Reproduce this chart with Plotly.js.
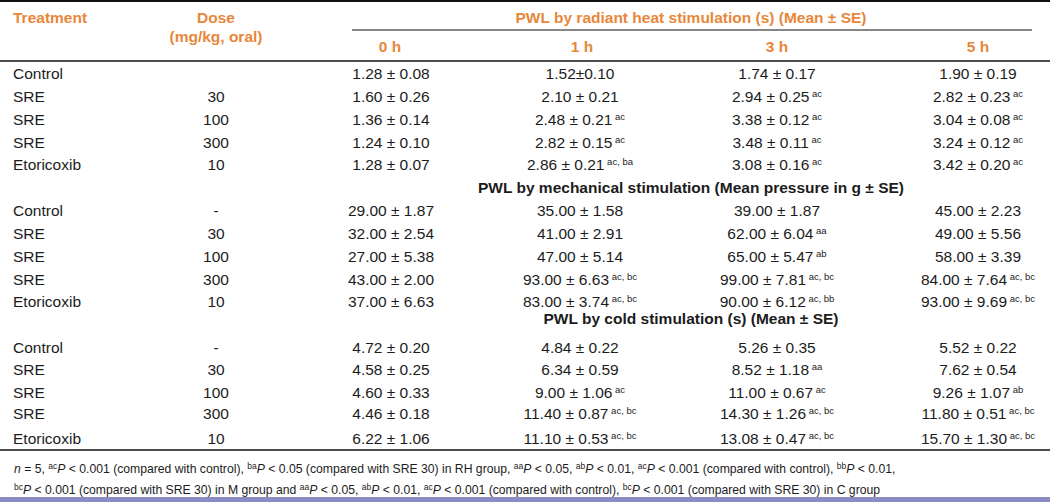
<!DOCTYPE html>
<html>
<head>
<meta charset="utf-8">
<script src="https://cdn.plot.ly/plotly-3.0.1.min.js"></script>
<style>html,body{margin:0;padding:0;background:#fff;}#chart{width:1050px;height:502px;}</style>
</head>
<body>
<div id="chart"></div>
<script>
// ---------------- data ----------------
const treatments = ['Control', 'SRE', 'SRE', 'SRE', 'Etoricoxib'];
const heatDose = ['', '30', '100', '300', '10'];
const mechDose = ['-', '30', '100', '300', '10'];
const coldDose = ['-', '30', '100', '300', '10'];
const timePoints = ['0 h', '1 h', '3 h', '5 h'];

const heatTitle = 'PWL by radiant heat stimulation (s) (Mean ± SE)';
const mechTitle = 'PWL by mechanical stimulation (Mean pressure in g ± SE)';
const coldTitle = 'PWL by cold stimulation (s) (Mean ± SE)';

// rows = treatments, columns = time points
const heatMean = [[1.28, 1.52, 1.74, 1.90], [1.60, 2.10, 2.94, 2.82], [1.36, 2.48, 3.38, 3.04], [1.24, 2.82, 3.48, 3.24], [1.28, 2.86, 3.08, 3.42]];
const heatSE   = [[0.08, 0.10, 0.17, 0.19], [0.26, 0.21, 0.25, 0.23], [0.14, 0.21, 0.12, 0.08], [0.10, 0.15, 0.11, 0.12], [0.07, 0.21, 0.16, 0.20]];
const heatSig  = [['', '', '', ''], ['', '', 'ac', 'ac'], ['', 'ac', 'ac', 'ac'], ['', 'ac', 'ac', 'ac'], ['', 'ac, ba', 'ac', 'ac']];

const mechMean = [[29, 35, 39, 45], [32, 41, 62, 49], [27, 47, 65, 58], [43, 93, 99, 84], [37, 83, 90, 93]];
const mechSE   = [[1.87, 1.58, 1.87, 2.23], [2.54, 2.91, 6.04, 5.56], [5.38, 5.14, 5.47, 3.39], [2.00, 6.63, 7.81, 7.64], [6.63, 3.74, 6.12, 9.69]];
const mechSig  = [['', '', '', ''], ['', '', 'aa', ''], ['', '', 'ab', ''], ['', 'ac, bc', 'ac, bc', 'ac, bc'], ['', 'ac, bc', 'ac, bb', 'ac, bc']];

const coldMean = [[4.72, 4.84, 5.26, 5.52], [4.58, 6.34, 8.52, 7.62], [4.60, 9.00, 11.00, 9.26], [4.46, 11.40, 14.30, 11.80], [6.22, 11.10, 13.08, 15.70]];
const coldSE   = [[0.20, 0.22, 0.35, 0.22], [0.25, 0.59, 1.18, 0.54], [0.33, 1.06, 0.67, 1.07], [0.18, 0.87, 1.26, 0.51], [1.06, 0.53, 0.47, 1.30]];
const coldSig  = [['', '', '', ''], ['', '', 'aa', ''], ['', 'ac', 'ac', 'ab'], ['', 'ac, bc', 'ac, bc', 'ac, bc'], ['', 'ac, bc', 'ac, bc', 'ac, bc']];

// cells printed without spaces round "±" in the source: [section, row, col]
const tightCells = [['heat', 0, 1]];

// footnote: [superscript, text] pieces; '' superscript = plain text
const footLine1 = [['', '<i>n</i> = 5, '], ['ac', '<i>P</i> &lt; 0.001 (compared with control), '], ['ba', '<i>P</i> &lt; 0.05 (compared with SRE 30) in RH group, '], ['aa', '<i>P</i> &lt; 0.05, '], ['ab', '<i>P</i> &lt; 0.01, '], ['ac', '<i>P</i> &lt; 0.001 (compared with control), '], ['bb', '<i>P</i> &lt; 0.01,']];
const footLine2 = [['bc', '<i>P</i> &lt; 0.001 (compared with SRE 30) in M group and '], ['aa', '<i>P</i> &lt; 0.05, '], ['ab', '<i>P</i> &lt; 0.01, '], ['ac', '<i>P</i> &lt; 0.001 (compared with control), '], ['bc', '<i>P</i> &lt; 0.001 (compared with SRE 30) in C group']];

// ---------------- layout constants (pixels) ----------------
const W = 1050, H = 502;
const FONT = '"Liberation Sans", Arial, sans-serif';
const ORANGE = '#e8873a';
const INK = '#1c1c1c';
const BODY = 15.5;
const FOOT = 12.2;
const COLX = {treat: 13, dose: 216, time: [391, 580, 777, 978], timeHead: [390, 582, 777, 978], group: 691};
const ROWY = {
  heat: [75.5, 98, 121, 144, 166.5],
  mech: [212.5, 235.5, 258.5, 281, 303.5],
  cold: [349, 371.5, 394, 415.5, 440]
};
const HEADY = {row1: 19, dose2: 38.5, times: 48.5, mech: 189, cold: 320, foot1: 468, foot2: 488.5};

function supSpan(s, size, shift, lead) {
  return '<span style="font-size:' + size + 'px;baseline-shift:' + shift + 'px">' + (lead ? ' ' : '') + s + '</span>';
}

function cellText(section, mean, se, sig, r, c) {
  const tight = tightCells.some(t => t[0] === section && t[1] === r && t[2] === c);
  let s = mean[r][c].toFixed(2) + (tight ? '±' : ' ± ') + se[r][c].toFixed(2);
  if (sig[r][c]) s += supSpan(sig[r][c], 9.5, 5, true);
  return s;
}

function footText(parts) {
  return parts.map(p => (p[0] ? supSpan(p[0], 8.5, 4.5, false) : '') + p[1]).join('');
}

function textTrace(xs, ys, texts, pos, font) {
  return {
    type: 'scatter', mode: 'text', x: xs, y: ys, text: texts,
    textposition: pos, textfont: font, hoverinfo: 'skip', showlegend: false, cliponaxis: false
  };
}

const bodyFont = {family: FONT, size: BODY, color: INK};
const headFont = {family: FONT, size: BODY, color: ORANGE, weight: 'bold'};
const groupFont = {family: FONT, size: BODY, color: INK, weight: 'bold'};

const traces = [];
const sections = [
  {key: 'heat', dose: heatDose, mean: heatMean, se: heatSE, sig: heatSig},
  {key: 'mech', dose: mechDose, mean: mechMean, se: mechSE, sig: mechSig},
  {key: 'cold', dose: coldDose, mean: coldMean, se: coldSE, sig: coldSig}
];
sections.forEach(sec => {
  const ys = ROWY[sec.key];
  traces.push(textTrace(ys.map(() => COLX.treat), ys, treatments, 'middle right', bodyFont));
  traces.push(textTrace(ys.map(() => COLX.dose), ys, sec.dose, 'middle center', bodyFont));
  timePoints.forEach((tp, c) => {
    traces.push(textTrace(ys.map(() => COLX.time[c]), ys,
      ys.map((_, r) => cellText(sec.key, sec.mean, sec.se, sec.sig, r, c)), 'middle center', bodyFont));
  });
});

// header
traces.push(textTrace([COLX.treat], [HEADY.row1], ['<b>Treatment</b>'], 'middle right', headFont));
traces.push(textTrace([COLX.dose, COLX.dose], [HEADY.row1, HEADY.dose2], ['<b>Dose</b>', '<b>(mg/kg, oral)</b>'], 'middle center', headFont));
traces.push(textTrace([COLX.group], [HEADY.row1], ['<b>' + heatTitle + '</b>'], 'middle center', headFont));
traces.push(textTrace(COLX.timeHead, timePoints.map(() => HEADY.times), timePoints.map(t => '<b>' + t + '</b>'), 'middle center', headFont));
// group headings
traces.push(textTrace([COLX.group, COLX.group], [HEADY.mech, HEADY.cold], ['<b>' + mechTitle + '</b>', '<b>' + coldTitle + '</b>'], 'middle center', groupFont));

const line = (x0, x1, y, w) => ({type: 'line', xref: 'x', yref: 'y', x0: x0, x1: x1, y0: y, y1: y, line: {color: '#111', width: w}, layer: 'above'});

const layout = {
  width: W, height: H,
  margin: {l: 0, r: 0, t: 0, b: 0, pad: 0},
  paper_bgcolor: '#ffffff', plot_bgcolor: '#ffffff',
  xaxis: {range: [0, W], visible: false, fixedrange: true},
  yaxis: {range: [H, 0], visible: false, fixedrange: true},
  showlegend: false,
  shapes: [
    line(0, W, 1, 2),
    line(352, 1032, 30, 1.2),
    line(0, W, 61, 1.5),
    line(0, W, 450, 1.5),
    {type: 'rect', xref: 'x', yref: 'y', x0: 0, x1: W, y0: 497, y1: 503, fillcolor: '#8b8bc6', line: {width: 0}, layer: 'above'}
  ],
  annotations: [
    {xref: 'x', yref: 'y', x: 12, y: HEADY.foot1, xanchor: 'left', yanchor: 'middle', showarrow: false, text: footText(footLine1), font: {family: FONT, size: FOOT, color: INK}},
    {xref: 'x', yref: 'y', x: 12, y: HEADY.foot2, xanchor: 'left', yanchor: 'middle', showarrow: false, text: footText(footLine2), font: {family: FONT, size: FOOT, color: INK}}
  ]
};

Plotly.newPlot('chart', traces, layout, {staticPlot: true, displayModeBar: false});
</script>
</body>
</html>
